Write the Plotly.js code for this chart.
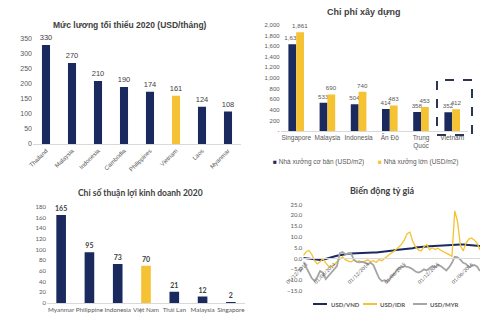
<!DOCTYPE html>
<html><head><meta charset="utf-8">
<script src="https://cdn.plot.ly/plotly-3.0.1.min.js"></script>
<style>html,body{margin:0;padding:0;background:#fff}#c{width:500px;height:325px}</style>
</head><body><div id="c"></div>
<script>
// ---------- data ----------
const wageCountries = ['Thailand','Malaysia','Indonesia','Cambodia','Philippines','Vietnam','Laos','Myanmar'];
const wageValues = [330,270,210,190,174,161,124,108];

const costCountries = ['Singapore','Malaysia','Indonesia','Ấn Độ','Trung<br>Quốc','Vietnam'];
const costBasic = [1637,533,504,414,358,352];
const costLarge = [1861,690,740,483,453,412];
const costYTickVals = [0,200,400,600,800,1000,1200,1400,1600,1800,2000];
const costYTickText = ['-','200','400','600','800','1,000','1,200','1,400','1,600','1,800','2,000'];

const easeCountries = ['Myanmar','Philippine','Indonesia','Việt Nam','Thái Lan','Malaysia','Singapore'];
const easeValues = [165,95,73,70,21,12,2];

const fxVND = [0.3,0.1,0,-0.2,-0.4,-0.6,-0.7,-0.6,-0.3,0.1,0.5,0.9,1.3,1.6,1.8,2.0,2.2,2.3,2.4,2.5,2.6,2.7,2.7,2.8,2.8,2.8,2.8,2.9,3.0,3.1,3.3,3.5,3.7,3.9,4.0,4.1,4.2,4.3,4.5,4.8,5.1,5.3,5.4,5.5,5.6,5.7,5.8,5.8,5.9,6.0,6.1,6.2,6.3,6.4,6.4,6.5,6.5,6.5,6.4,6.3,6.2,6.1,6.0,5.8];
const fxIDR = [1.4,3.0,3.8,2.0,-1.0,-2.5,-1.5,0,-2.0,-3.5,-3.8,-3.0,-1.5,-0.2,0.8,-0.5,-1.2,-1.5,-0.8,-1.5,-1.0,-1.8,-1.2,-0.6,-1.5,-1.0,-1.8,-0.5,-1.0,0.2,1.2,2.2,3.0,4.0,5.2,6.5,8.5,11.5,12.2,8.0,5.5,4.0,3.5,5.5,6.5,4.0,5.0,4.2,4.8,3.8,3.2,2.5,1.8,1.0,22.0,17.0,6.0,3.5,7.0,9.0,9.5,8.5,7.0,4.0];
const fxMYR = [-1.5,-4.0,-6.0,-9.0,-10.4,-8.5,-5.8,-6.5,-9.5,-8.0,-6.0,-5.0,-3.5,2.5,3.0,2.0,2.2,2.5,-0.5,-1.5,-1.8,-1.5,-2.0,-2.5,-2.0,-3.0,-6.0,-9.0,-10.4,-10.0,-10.8,-9.0,-7.5,-6.0,-4.5,-4.0,-3.5,-3.8,-4.2,-5.0,-6.0,-6.5,-6.0,-5.0,-5.5,-4.5,-3.5,-4.0,-3.0,-3.5,-4.5,-5.5,-4.0,-2.0,0.8,0.5,-0.5,-2.0,-2.5,-4.0,-3.5,-3.0,-3.8,-5.8];
const fxTickPos = [1,11,23,36,48,60];
const fxTickLabels = ['01/12/2013','01/06/2014','01/12/2014','01/06/2015','01/12/2015','01/06/2016'];
const fxYTicks = [-15,-10,-5,0,5,10,15,20,25];

// ---------- style ----------
const NAVY = '#1B2A5E', GOLD = '#F4C232', GRAY = '#A5A5A5', TXT = '#595959', DARK = '#404040';
const F1 = 'Liberation Sans, Arial, sans-serif';
const F2 = 'Lato, Liberation Sans, sans-serif';
const px = v => v / 500, py = v => 1 - v / 325;

const traces = [
  {type:'bar', x:wageCountries, y:wageValues, xaxis:'x', yaxis:'y', width:0.31,
   marker:{color:wageCountries.map(c => c === 'Vietnam' ? GOLD : NAVY)},
   text:wageValues.map(String), textposition:'outside', constraintext:'none', cliponaxis:false,
   textfont:{family:F1, size:7.5, color:DARK}},
  {type:'bar', x:costCountries, y:costBasic, xaxis:'x2', yaxis:'y2', width:0.25, offset:-0.25,
   marker:{color:NAVY}, texttemplate:'%{y:,}', textposition:'outside', constraintext:'none', cliponaxis:false,
   textfont:{family:F1, size:6.2, color:TXT}},
  {type:'bar', x:costCountries, y:costLarge, xaxis:'x2', yaxis:'y2', width:0.25, offset:0,
   marker:{color:GOLD}, texttemplate:'%{y:,}', textposition:'outside', constraintext:'none', cliponaxis:false,
   textfont:{family:F1, size:6.2, color:TXT}},
  {type:'bar', x:easeCountries, y:easeValues, xaxis:'x3', yaxis:'y3', width:0.34,
   marker:{color:easeCountries.map(c => c === 'Việt Nam' ? GOLD : NAVY)},
   texttemplate:'<b>%{y}</b>', textposition:'outside', constraintext:'none', cliponaxis:false,
   textfont:{family:F2, size:7, color:DARK}},
  {type:'scatter', mode:'lines', y:fxVND, xaxis:'x4', yaxis:'y4', name:'USD/VND', line:{color:NAVY, width:2}},
  {type:'scatter', mode:'lines', y:fxIDR, xaxis:'x4', yaxis:'y4', name:'USD/IDR', line:{color:GOLD, width:1.3}},
  {type:'scatter', mode:'lines', y:fxMYR, xaxis:'x4', yaxis:'y4', name:'USD/MYR', line:{color:GRAY, width:1.8}}
];

const tf = (s, f) => ({size:s, color:TXT, family:f});
const baseY = {showgrid:false, zeroline:false, ticks:'', showline:false, fixedrange:true};
const baseX = {showgrid:false, zeroline:false, ticks:'', showline:true, linecolor:'#D9D9D9', linewidth:1, fixedrange:true};

const ann = (x, y, text, font, xa) => ({xref:'paper', yref:'paper', x:px(x), y:py(y), xanchor:xa || 'center', yanchor:'middle', text:text, showarrow:false, font:font});

const layout = {
  width:500, height:325, margin:{l:0, r:0, t:0, b:0}, showlegend:false,
  paper_bgcolor:'#fff', plot_bgcolor:'rgba(0,0,0,0)',
  xaxis:Object.assign({}, baseX, {domain:[px(33), px(241)], anchor:'y', type:'category', range:[-0.5,7.5], tickangle:-45, tickfont:tf(6, F1)}),
  yaxis:Object.assign({}, baseY, {domain:[py(144), py(38.8)], anchor:'x', range:[0,350.5], dtick:50, tickfont:tf(7, F1)}),
  xaxis2:Object.assign({}, baseX, {domain:[px(280.6), px(467.8)], anchor:'y2', type:'category', range:[-0.5,5.5], tickangle:0, tickfont:tf(6.5, F1)}),
  yaxis2:Object.assign({}, baseY, {domain:[py(131), py(24.8)], anchor:'x2', range:[0,2003], tickvals:costYTickVals, ticktext:costYTickText, tickfont:tf(6, F1)}),
  xaxis3:Object.assign({}, baseX, {domain:[px(47), px(245)], anchor:'y3', type:'category', range:[-0.5,6.5], tickangle:0, tickfont:tf(6.3, F2)}),
  yaxis3:Object.assign({}, baseY, {domain:[py(303), py(206.7)], anchor:'x3', range:[0,180.5], dtick:20, tickfont:tf(6, F2)}),
  xaxis4:Object.assign({}, baseX, {domain:[px(303.3), px(480)], anchor:'free', position:py(258.3), range:[0,63],
    tickvals:fxTickPos, ticktext:fxTickLabels, tickangle:-45, tickfont:tf(5, F2)}),
  yaxis4:Object.assign({}, baseY, {domain:[py(291), py(204.2)], anchor:'x4', range:[-15,25.1], tickvals:fxYTicks,
    tickformat:'.1f', ticksuffix:'%', tickfont:tf(6, F2)}),
  shapes:[
    {type:'rect', xref:'paper', yref:'paper', x0:px(437), x1:px(472), y0:py(135), y1:py(80), line:{color:'#2B3650', width:2, dash:'dash'}},
    {type:'line', xref:'paper', yref:'paper', x0:px(313), x1:px(327), y0:py(304), y1:py(304), line:{color:NAVY, width:2}},
    {type:'line', xref:'paper', yref:'paper', x0:px(363), x1:px(377), y0:py(304), y1:py(304), line:{color:GOLD, width:2}},
    {type:'line', xref:'paper', yref:'paper', x0:px(413), x1:px(427), y0:py(304), y1:py(304), line:{color:GRAY, width:2}}
  ],
  annotations:[
    ann(130, 25, '<b>Mức lương tối thiểu 2020 (USD/tháng)</b>', {family:F1, size:8.5, color:DARK}),
    ann(364, 12, '<b>Chi phí xây dựng</b>', {family:F1, size:9, color:DARK}),
    ann(140, 193, '<b>Chỉ số thuận lợi kinh doanh 2020</b>', {family:F2, size:8.5, color:DARK}),
    ann(382, 190, '<b>Biến động tỷ giá</b>', {family:F2, size:9, color:DARK}),
    ann(271, 162, '<span style="color:'+NAVY+'">■</span> Nhà xưởng cơ bản (USD/m2)', {family:F1, size:6.5, color:TXT}, 'left'),
    ann(376, 162, '<span style="color:'+GOLD+'">■</span> Nhà xưởng lớn (USD/m2)', {family:F1, size:6.5, color:TXT}, 'left'),
    ann(329, 304, '<b>USD/VND</b>', {family:F2, size:6, color:TXT}, 'left'),
    ann(378, 304, '<b>USD/IDR</b>', {family:F2, size:6, color:TXT}, 'left'),
    ann(428, 304, '<b>USD/MYR</b>', {family:F2, size:6, color:TXT}, 'left')
  ]
};

Plotly.newPlot('c', traces, layout, {staticPlot:true, displayModeBar:false});
</script></body></html>
